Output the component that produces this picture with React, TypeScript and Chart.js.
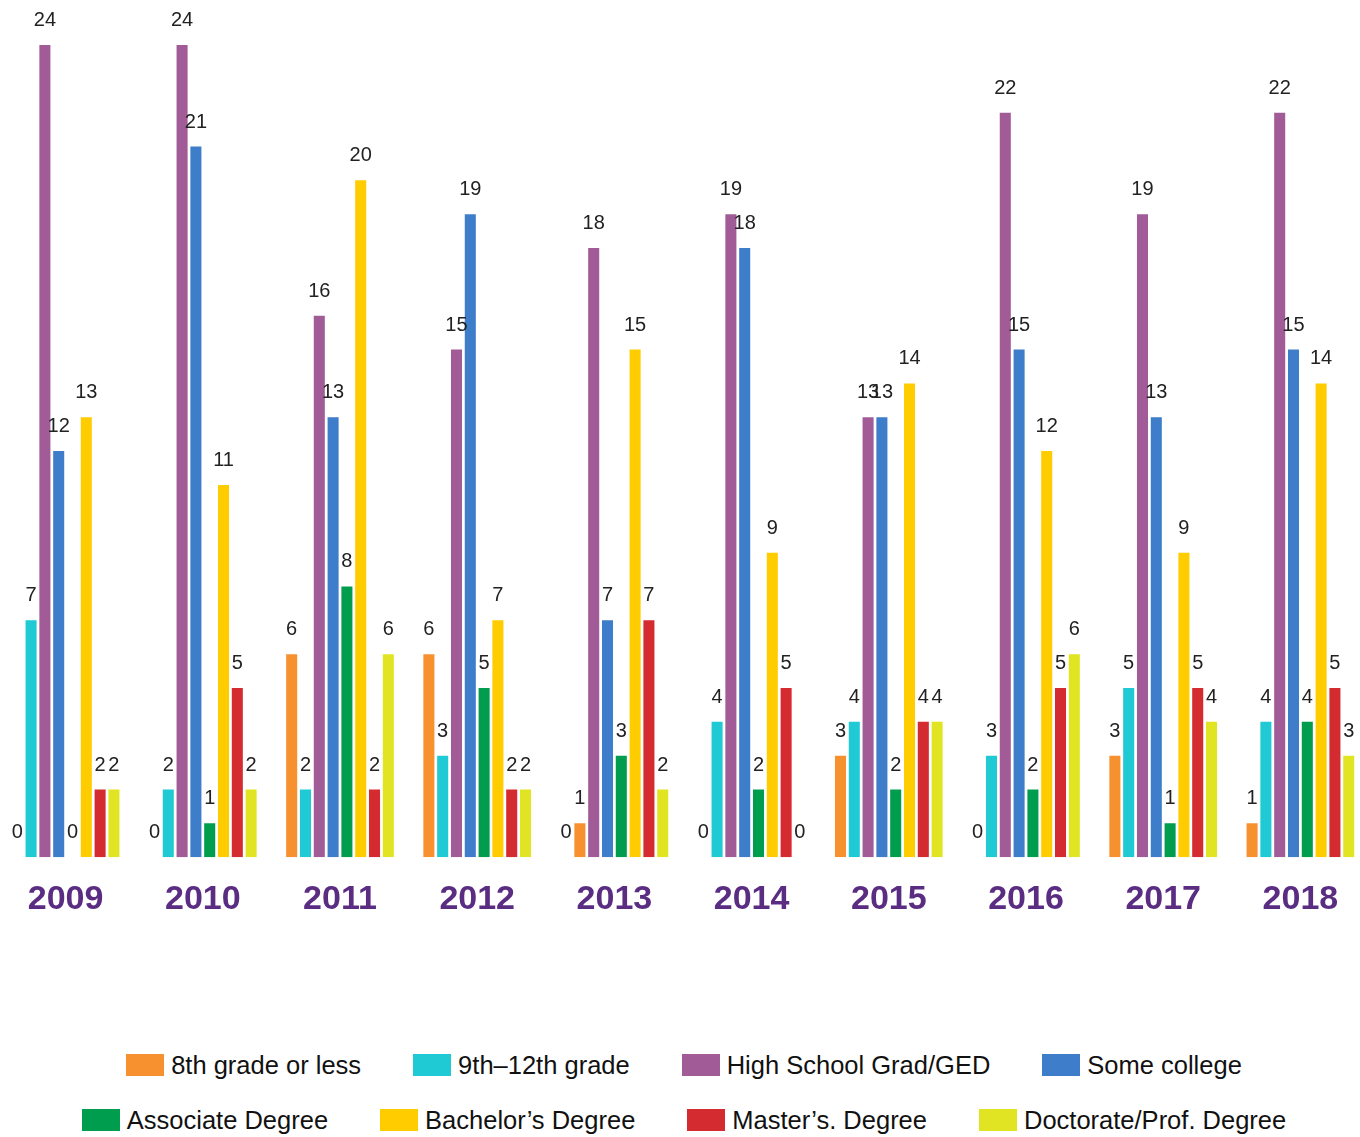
import React, { useEffect, useRef } from "react";
import { Chart, registerables } from "chart.js";

Chart.register(...registerables);

const years = ["2009", "2010", "2011", "2012", "2013", "2014", "2015", "2016", "2017", "2018"];

const seriesNames = [
  "8th grade or less",
  "9th–12th grade",
  "High School Grad/GED",
  "Some college",
  "Associate Degree",
  "Bachelor’s Degree",
  "Master’s. Degree",
  "Doctorate/Prof. Degree",
];

const eighthOrLess = [0, 0, 6, 6, 0, 0, 3, 0, 3, 1];
const ninthToTwelfth = [7, 2, 2, 3, 1, 4, 4, 3, 5, 4];
const highSchool = [24, 24, 16, 15, 18, 19, 13, 22, 19, 22];
const someCollege = [12, 21, 13, 19, 7, 18, 13, 15, 13, 15];
const associate = [0, 1, 8, 5, 3, 2, 2, 2, 1, 4];
const bachelor = [13, 11, 20, 7, 15, 9, 14, 12, 9, 14];
const master = [2, 5, 2, 2, 7, 5, 4, 5, 5, 5];
const doctorate = [2, 2, 6, 2, 2, 0, 4, 6, 4, 3];

const seriesValues = [eighthOrLess, ninthToTwelfth, highSchool, someCollege, associate, bachelor, master, doctorate];

const seriesColors = ["#F7902F", "#1FCAD4", "#A15B96", "#3E7DC9", "#009D4F", "#FFCC00", "#D32B30", "#E1E423"];

const FONT = '"Liberation Sans", Arial, sans-serif';

const valueLabels = {
  id: "valueLabels",
  afterDatasetsDraw(chart: any) {
    const ctx = chart.ctx;
    ctx.save();
    ctx.font = `20px ${FONT}`;
    ctx.fillStyle = "#222222";
    ctx.textAlign = "center";
    ctx.textBaseline = "alphabetic";
    chart.data.datasets.forEach((ds: any, di: number) => {
      const meta = chart.getDatasetMeta(di);
      meta.data.forEach((el: any, i: number) => {
        ctx.fillText(String(ds.data[i]), el.x, el.y - 19);
      });
    });
    ctx.restore();
  },
};

export default function App() {
  const canvasRef = useRef<HTMLCanvasElement | null>(null);

  useEffect(() => {
    const canvas = canvasRef.current;
    if (!canvas) return;
    const datasets = seriesNames.map((name, si) => ({
      label: name,
      data: seriesValues[si],
      backgroundColor:
        si === 1
          ? years.map((y) => (y === "2013" ? seriesColors[0] : seriesColors[1]))
          : seriesColors[si],
      borderWidth: 0,
      categoryPercentage: 0.805,
      barPercentage: 0.8,
    }));
    const chart = new Chart(canvas, {
      type: "bar",
      data: { labels: years, datasets },
      options: {
        responsive: false,
        animation: false,
        devicePixelRatio: 1,
        layout: { padding: { top: 45, bottom: 20, left: 0, right: 0 } },
        plugins: {
          legend: { display: false },
          tooltip: { enabled: false },
        },
        scales: {
          x: {
            grid: { display: false, drawTicks: false },
            border: { display: false },
            ticks: {
              color: "#5A2D82",
              padding: 22,
              font: { family: FONT, size: 34, weight: "bold" },
            },
          },
          y: {
            display: false,
            min: 0,
            max: 24,
          },
        },
      },
      plugins: [valueLabels],
    });
    return () => chart.destroy();
  }, []);

  const rows = [seriesNames.slice(0, 4), seriesNames.slice(4, 8)];
  const rowTops = [1050, 1105];

  return (
    <div
      style={{
        position: "fixed",
        left: 0,
        top: 0,
        width: 1360,
        height: 1137,
        overflow: "hidden",
        background: "#ffffff",
      }}
    >
      <div style={{ position: "absolute", left: -3, top: 0, width: 1372, height: 962 }}>
        <canvas ref={canvasRef} width={1372} height={962} style={{ width: 1372, height: 962, display: "block" }} />
      </div>
      {rows.map((row, ri) => (
        <div
          key={ri}
          style={{
            position: "absolute",
            left: 0,
            width: 1368,
            top: rowTops[ri],
            height: 30,
            display: "flex",
            justifyContent: "center",
            alignItems: "center",
            gap: 52,
            fontFamily: FONT,
            fontSize: 25.5,
            color: "#111111",
            whiteSpace: "nowrap",
          }}
        >
          {row.map((name) => {
            const si = seriesNames.indexOf(name);
            return (
              <div key={name} style={{ display: "flex", alignItems: "center" }}>
                <span
                  style={{
                    display: "inline-block",
                    width: 38,
                    height: 22,
                    background: seriesColors[si],
                    marginRight: 7,
                  }}
                />
                <span style={{ lineHeight: "30px" }}>{name}</span>
              </div>
            );
          })}
        </div>
      ))}
    </div>
  );
}
